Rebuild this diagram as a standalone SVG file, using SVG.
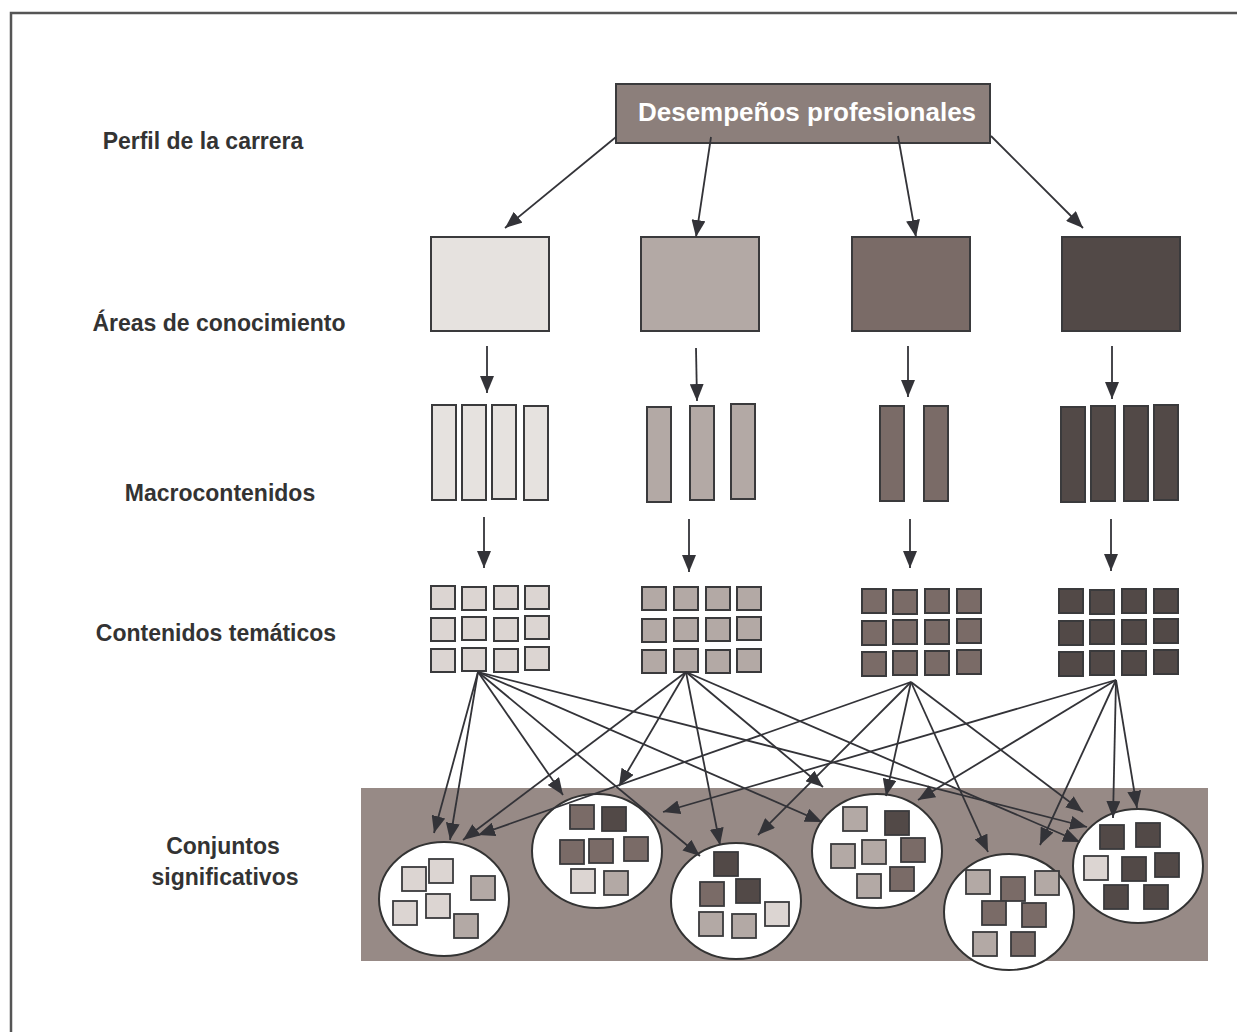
<svg xmlns="http://www.w3.org/2000/svg" width="1237" height="1032" viewBox="0 0 1237 1032">
<style>
.lbl{font-family:"Liberation Sans",Arial,sans-serif;font-weight:bold;font-size:23px;fill:#333;text-anchor:middle}
.ttl{font-family:"Liberation Sans",Arial,sans-serif;font-weight:bold;font-size:26px;fill:#fff;text-anchor:middle}
.c1{fill:#e6e2df}.c1b{fill:#dcd5d2}.c2{fill:#b3a9a5}.c3{fill:#7a6b67}.c4{fill:#524947}
rect.s,.box{stroke:#3a3a3c;stroke-width:2}
.sq{stroke:#3a3a3c;stroke-width:1.8}
.el{fill:#fff;stroke:#333;stroke-width:2}
.cn line{stroke:#333338;stroke-width:1.8;marker-end:url(#ah)}
</style>
<defs>
<marker id="ah" markerUnits="userSpaceOnUse" markerWidth="17" markerHeight="14" refX="17" refY="7" orient="auto">
<path d="M0,0 L17,7 L0,14 z" fill="#333338"/>
</marker>
</defs>
<rect width="1237" height="1032" fill="#fff"/>
<path d="M11,1032 V13 H1237" fill="none" stroke="#555" stroke-width="2.5"/>

<g id="labels">
<text class="lbl" x="203" y="149">Perfil de la carrera</text>
<text class="lbl" x="219" y="331">Áreas de conocimiento</text>
<text class="lbl" x="220" y="501">Macrocontenidos</text>
<text class="lbl" x="216" y="641">Contenidos temáticos</text>
<text class="lbl" x="223" y="854">Conjuntos</text>
<text class="lbl" x="225" y="885">significativos</text>
</g>

<g id="conjuntos-bg"><rect x="361" y="788" width="847" height="173" fill="#978a86"/></g>

<g id="desempenos">
<rect class="box" x="616" y="84" width="374" height="59" fill="#8c7f7b"/>
<text class="ttl" x="807" y="121">Desempeños profesionales</text>
</g>

<g id="area1"><rect class="box c1" x="431" y="237" width="118" height="94"/></g>
<g id="area2"><rect class="box c2" x="641" y="237" width="118" height="94"/></g>
<g id="area3"><rect class="box c3" x="852" y="237" width="118" height="94"/></g>
<g id="area4"><rect class="box c4" x="1062" y="237" width="118" height="94"/></g>

<g id="macro1" class="c1">
<rect class="s" x="432" y="405" width="24" height="95"/>
<rect class="s" x="462" y="405" width="24" height="95"/>
<rect class="s" x="492" y="405" width="24" height="94"/>
<rect class="s" x="524" y="406" width="24" height="94"/>
</g>
<g id="macro2" class="c2">
<rect class="s" x="647" y="407" width="24" height="95"/>
<rect class="s" x="690" y="406" width="24" height="94"/>
<rect class="s" x="731" y="404" width="24" height="95"/>
</g>
<g id="macro3" class="c3">
<rect class="s" x="880" y="406" width="24" height="95"/>
<rect class="s" x="924" y="406" width="24" height="95"/>
</g>
<g id="macro4" class="c4">
<rect class="s" x="1061" y="407" width="24" height="95"/>
<rect class="s" x="1091" y="406" width="24" height="95"/>
<rect class="s" x="1124" y="406" width="24" height="95"/>
<rect class="s" x="1154" y="405" width="24" height="95"/>
</g>

<g id="tema1" class="c1b">
<rect class="s" x="431" y="586" width="24" height="23"/><rect class="s" x="462" y="587" width="24" height="23"/><rect class="s" x="494" y="586" width="24" height="23"/><rect class="s" x="525" y="586" width="24" height="23"/>
<rect class="s" x="431" y="618" width="24" height="23"/><rect class="s" x="462" y="617" width="24" height="23"/><rect class="s" x="494" y="618" width="24" height="23"/><rect class="s" x="525" y="616" width="24" height="23"/>
<rect class="s" x="431" y="649" width="24" height="23"/><rect class="s" x="462" y="648" width="24" height="23"/><rect class="s" x="494" y="649" width="24" height="23"/><rect class="s" x="525" y="647" width="24" height="23"/>
</g>
<g id="tema2" class="c2">
<rect class="s" x="642" y="587" width="24" height="23"/><rect class="s" x="674" y="587" width="24" height="23"/><rect class="s" x="706" y="587" width="24" height="23"/><rect class="s" x="737" y="587" width="24" height="23"/>
<rect class="s" x="642" y="619" width="24" height="23"/><rect class="s" x="674" y="618" width="24" height="23"/><rect class="s" x="706" y="618" width="24" height="23"/><rect class="s" x="737" y="617" width="24" height="23"/>
<rect class="s" x="642" y="650" width="24" height="23"/><rect class="s" x="674" y="649" width="24" height="23"/><rect class="s" x="706" y="650" width="24" height="23"/><rect class="s" x="737" y="649" width="24" height="23"/>
</g>
<g id="tema3" class="c3">
<rect class="s" x="862" y="589" width="24" height="24"/><rect class="s" x="893" y="590" width="24" height="24"/><rect class="s" x="925" y="589" width="24" height="24"/><rect class="s" x="957" y="589" width="24" height="24"/>
<rect class="s" x="862" y="621" width="24" height="24"/><rect class="s" x="893" y="620" width="24" height="24"/><rect class="s" x="925" y="620" width="24" height="24"/><rect class="s" x="957" y="619" width="24" height="24"/>
<rect class="s" x="862" y="652" width="24" height="24"/><rect class="s" x="893" y="651" width="24" height="24"/><rect class="s" x="925" y="651" width="24" height="24"/><rect class="s" x="957" y="650" width="24" height="24"/>
</g>
<g id="tema4" class="c4">
<rect class="s" x="1059" y="589" width="24" height="24"/><rect class="s" x="1090" y="590" width="24" height="24"/><rect class="s" x="1122" y="589" width="24" height="24"/><rect class="s" x="1154" y="589" width="24" height="24"/>
<rect class="s" x="1059" y="621" width="24" height="24"/><rect class="s" x="1090" y="620" width="24" height="24"/><rect class="s" x="1122" y="620" width="24" height="24"/><rect class="s" x="1154" y="619" width="24" height="24"/>
<rect class="s" x="1059" y="652" width="24" height="24"/><rect class="s" x="1090" y="651" width="24" height="24"/><rect class="s" x="1122" y="651" width="24" height="24"/><rect class="s" x="1154" y="650" width="24" height="24"/>
</g>

<g id="conjunto1">
<ellipse class="el" cx="444" cy="899" rx="65" ry="57"/>
<rect class="sq c1b" x="402" y="867" width="24" height="24"/>
<rect class="sq c1b" x="429" y="859" width="24" height="24"/>
<rect class="sq c2" x="471" y="876" width="24" height="24"/>
<rect class="sq c1b" x="393" y="901" width="24" height="24"/>
<rect class="sq c1b" x="426" y="894" width="24" height="24"/>
<rect class="sq c2" x="454" y="914" width="24" height="24"/>
</g>
<g id="conjunto2">
<ellipse class="el" cx="597" cy="851" rx="65" ry="57"/>
<rect class="sq c3" x="570" y="805" width="24" height="24"/>
<rect class="sq c4" x="602" y="807" width="24" height="24"/>
<rect class="sq c3" x="560" y="840" width="24" height="24"/>
<rect class="sq c3" x="589" y="839" width="24" height="24"/>
<rect class="sq c3" x="624" y="837" width="24" height="24"/>
<rect class="sq c1b" x="571" y="869" width="24" height="24"/>
<rect class="sq c2" x="604" y="871" width="24" height="24"/>
</g>
<g id="conjunto3">
<ellipse class="el" cx="736" cy="901" rx="65" ry="58"/>
<rect class="sq c4" x="714" y="852" width="24" height="24"/>
<rect class="sq c3" x="700" y="882" width="24" height="24"/>
<rect class="sq c4" x="736" y="879" width="24" height="24"/>
<rect class="sq c1b" x="765" y="902" width="24" height="24"/>
<rect class="sq c2" x="699" y="912" width="24" height="24"/>
<rect class="sq c2" x="732" y="914" width="24" height="24"/>
</g>
<g id="conjunto4">
<ellipse class="el" cx="877" cy="851" rx="65" ry="57"/>
<rect class="sq c2" x="843" y="807" width="24" height="24"/>
<rect class="sq c4" x="885" y="811" width="24" height="24"/>
<rect class="sq c2" x="831" y="844" width="24" height="24"/>
<rect class="sq c2" x="862" y="840" width="24" height="24"/>
<rect class="sq c3" x="901" y="838" width="24" height="24"/>
<rect class="sq c2" x="857" y="874" width="24" height="24"/>
<rect class="sq c3" x="890" y="867" width="24" height="24"/>
</g>
<g id="conjunto5">
<ellipse class="el" cx="1009" cy="912" rx="65" ry="58"/>
<rect class="sq c2" x="966" y="870" width="24" height="24"/>
<rect class="sq c3" x="1001" y="877" width="24" height="24"/>
<rect class="sq c2" x="1035" y="871" width="24" height="24"/>
<rect class="sq c3" x="982" y="901" width="24" height="24"/>
<rect class="sq c3" x="1022" y="903" width="24" height="24"/>
<rect class="sq c2" x="973" y="932" width="24" height="24"/>
<rect class="sq c3" x="1011" y="932" width="24" height="24"/>
</g>
<g id="conjunto6">
<ellipse class="el" cx="1138" cy="866" rx="65" ry="57"/>
<rect class="sq c4" x="1100" y="825" width="24" height="24"/>
<rect class="sq c4" x="1136" y="823" width="24" height="24"/>
<rect class="sq c1b" x="1084" y="856" width="24" height="24"/>
<rect class="sq c4" x="1122" y="857" width="24" height="24"/>
<rect class="sq c4" x="1155" y="853" width="24" height="24"/>
<rect class="sq c4" x="1104" y="885" width="24" height="24"/>
<rect class="sq c4" x="1144" y="885" width="24" height="24"/>
</g>

<g id="connectors" class="cn">
<line x1="616" y1="137" x2="505" y2="228"/>
<line x1="711" y1="137" x2="696" y2="237"/>
<line x1="898" y1="136" x2="916" y2="237"/>
<line x1="991" y1="136" x2="1083" y2="228"/>

<line x1="487" y1="346" x2="487" y2="393"/>
<line x1="696" y1="348" x2="697" y2="401"/>
<line x1="908" y1="346" x2="908" y2="397"/>
<line x1="1112" y1="346" x2="1112" y2="399"/>

<line x1="484" y1="517" x2="484" y2="568"/>
<line x1="689" y1="519" x2="689" y2="572"/>
<line x1="910" y1="519" x2="910" y2="568"/>
<line x1="1111" y1="519" x2="1111" y2="571"/>

<line x1="478" y1="672" x2="434" y2="833"/>
<line x1="478" y1="672" x2="450" y2="840"/>
<line x1="478" y1="672" x2="563" y2="795"/>
<line x1="478" y1="672" x2="700" y2="856"/>
<line x1="478" y1="672" x2="822" y2="822"/>
<line x1="478" y1="672" x2="1087" y2="827"/>

<line x1="686" y1="672" x2="463" y2="840"/>
<line x1="686" y1="672" x2="619" y2="786"/>
<line x1="686" y1="672" x2="720" y2="845"/>
<line x1="686" y1="672" x2="823" y2="787"/>
<line x1="686" y1="672" x2="1080" y2="842"/>

<line x1="911" y1="682" x2="478" y2="835"/>
<line x1="911" y1="682" x2="758" y2="835"/>
<line x1="911" y1="682" x2="886" y2="796"/>
<line x1="911" y1="682" x2="988" y2="852"/>
<line x1="911" y1="682" x2="1083" y2="812"/>

<line x1="1116" y1="680" x2="663" y2="812"/>
<line x1="1116" y1="680" x2="918" y2="800"/>
<line x1="1116" y1="680" x2="1040" y2="845"/>
<line x1="1116" y1="680" x2="1113" y2="818"/>
<line x1="1116" y1="680" x2="1137" y2="808"/>
</g>
</svg>
